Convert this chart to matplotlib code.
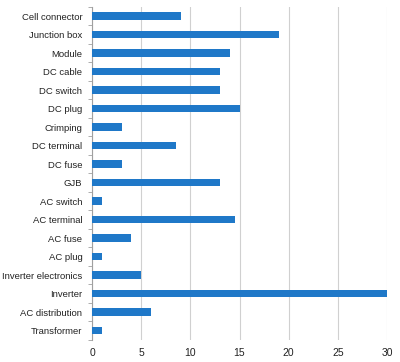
import numpy as np
import matplotlib.pyplot as plt

categories = ["Cell connector", "Junction box", "Module", "DC cable", "DC switch",
              "DC plug", "Crimping", "DC terminal", "DC fuse", "GJB", "AC switch",
              "AC terminal", "AC fuse", "AC plug", "Inverter electronics", "Inverter",
              "AC distribution", "Transformer"]
values = [9, 19, 14, 13, 13, 15, 3, 8.5, 3, 13, 1, 14.5, 4, 1, 5, 30, 6, 1]
x_ticks = [0, 5, 10, 15, 20, 25, 30]

plt.rcParams['font.family'] = ['Liberation Sans', 'DejaVu Sans']

fig = plt.figure(figsize=(4.0, 3.62), dpi=100)
ax = fig.add_axes([0.23, 0.061, 0.7375, 0.92])

y = np.arange(len(categories))
ax.barh(y, values, height=0.4, color="#1f78c8", zorder=3)

ax.set_ylim(len(categories) - 0.5, -0.5)
ax.set_xlim(0, 30)
ax.set_yticks(y)
ax.set_yticklabels(categories)
ax.set_yticks(np.arange(len(categories) + 1) - 0.5, minor=True)
ax.set_xticks(x_ticks)

ax.tick_params(axis="y", which="major", length=0, pad=7, labelsize=6.8, labelcolor="#222222")
ax.tick_params(axis="y", which="minor", length=3, color="#a0a0a0", direction="out")
ax.tick_params(axis="x", length=0, pad=6, labelsize=7.5, labelcolor="#222222")

ax.grid(axis="x", color="#d0d0d0", linewidth=0.8, zorder=0)
for side in ["top", "right", "bottom"]:
    ax.spines[side].set_visible(False)
ax.spines["left"].set_color("#a0a0a0")

fig.savefig("out.png", dpi=100)
